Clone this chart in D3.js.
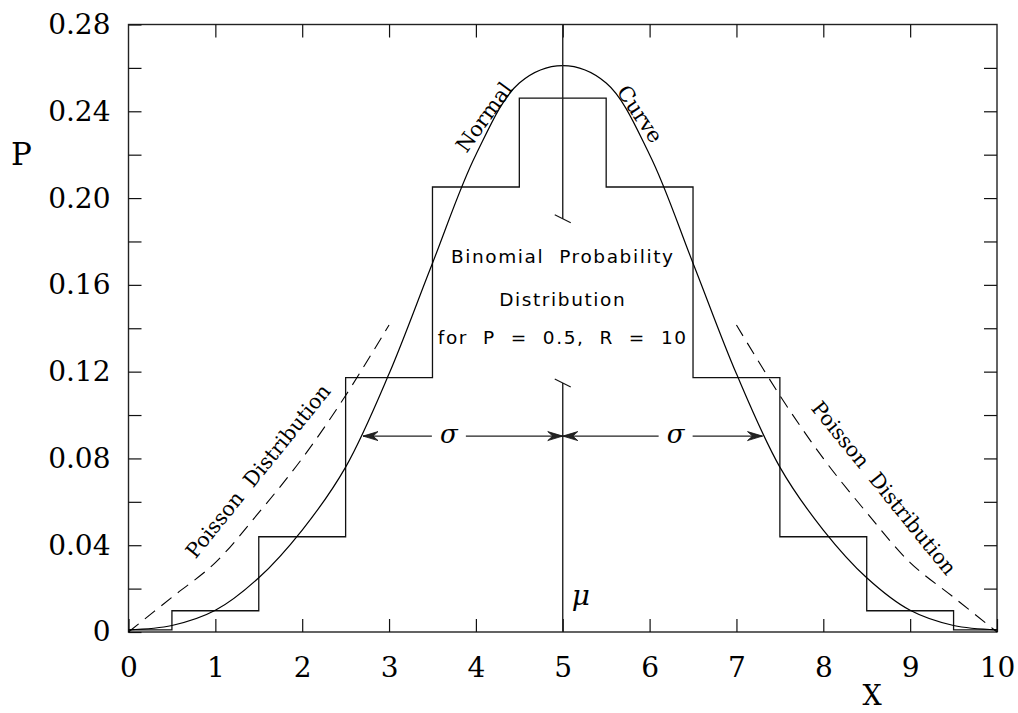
<!DOCTYPE html>
<html>
<head>
<meta charset="utf-8">
<script src="https://cdn.jsdelivr.net/npm/d3@7"></script>
<style>
  body { margin: 0; background: #fff; }
  svg { display: block; }
  .tick text { font-family: "DejaVu Serif", serif; font-size: 28px; fill: #000; }
  .tick line { stroke: #111; stroke-width: 1.2; }
</style>
</head>
<body>
<div id="vis"></div>
<script>
// Binomial distribution, p = 0.5, n = 10 (step histogram)
const binomX = [0, 1, 2, 3, 4, 5, 6, 7, 8, 9, 10];
const binomP = [0.001, 0.0098, 0.0439, 0.1172, 0.2051, 0.2461, 0.2051, 0.1172, 0.0439, 0.0098, 0.001];

// Normal curve
const normalX = [0, 0.5, 1, 1.5, 2, 2.5, 3, 3.5, 4, 4.5, 5, 5.5, 6, 6.5, 7, 7.5, 8, 8.5, 9, 9.5, 10];
const normalP = [0.001, 0.003, 0.010, 0.025, 0.047, 0.076, 0.119, 0.170, 0.220, 0.253, 0.261,
                 0.253, 0.220, 0.170, 0.119, 0.076, 0.047, 0.025, 0.010, 0.003, 0.001];

// Poisson dashed curves, left and right
const poissonLeftX = [0, 0.5, 1, 1.5, 2, 2.5, 3];
const poissonLeftP = [0, 0.016, 0.032, 0.055, 0.080, 0.109, 0.1415];
const poissonRightX = [7, 7.5, 8, 8.5, 9, 9.5, 10];
const poissonRightP = [0.1415, 0.109, 0.080, 0.055, 0.032, 0.016, 0];

// Axis ticks
const xTickValues = [0, 1, 2, 3, 4, 5, 6, 7, 8, 9, 10];
const yTickValues = [0, 0.02, 0.04, 0.06, 0.08, 0.10, 0.12, 0.14, 0.16, 0.18, 0.20, 0.22, 0.24, 0.26, 0.28];
const yTickLabels = ["0", "", "0.04", "", "0.08", "", "0.12", "", "0.16", "", "0.20", "", "0.24", "", "0.28"];

// mean line pieces (broken around the text) and sigma arrows
const muTop = [0.28, 0.1905];
const muBottom = [0.1148, 0];
const sigmaY = 0.0903;
const sigmaLeft = 2.70, sigmaRight = 7.30, mu = 5;

const FRAME_WIDTH = 1018;
const FRAME_HEIGHT = 713;
const MARGINS = {left: 128.5, right: 21, top: 24.5, bottom: 81};

const SVG = d3.select("#vis")
              .append("svg")
              .attr("width", FRAME_WIDTH)
              .attr("height", FRAME_HEIGHT);

const X = d3.scaleLinear().domain([0, 10]).range([MARGINS.left, FRAME_WIDTH - MARGINS.right]);
const Y = d3.scaleLinear().domain([0, 0.28]).range([FRAME_HEIGHT - MARGINS.bottom, MARGINS.top]);

// frame
SVG.append("rect")
   .attr("x", X(0)).attr("y", Y(0.28))
   .attr("width", X(10) - X(0)).attr("height", Y(0) - Y(0.28))
   .attr("fill", "none").attr("stroke", "#222").attr("stroke-width", 1.4);

// axes with inward ticks
const TICK = 13;
SVG.append("g")
   .attr("transform", "translate(0," + Y(0) + ")")
   .call(d3.axisBottom(X).tickValues(xTickValues).tickSize(-TICK).tickSizeOuter(0)
           .tickPadding(25).tickFormat(d3.format("d")))
   .call(g => g.select(".domain").remove());
SVG.append("g")
   .attr("transform", "translate(0," + Y(0.28) + ")")
   .call(d3.axisTop(X).tickValues(xTickValues.slice(1, -1)).tickSize(-TICK).tickFormat(""))
   .call(g => g.select(".domain").remove());
SVG.append("g")
   .attr("transform", "translate(" + X(0) + ",0)")
   .call(d3.axisLeft(Y).tickValues(yTickValues).tickSize(-TICK).tickSizeOuter(0)
           .tickPadding(18).tickFormat((d, i) => yTickLabels[i]))
   .call(g => g.select(".domain").remove());
SVG.append("g")
   .attr("transform", "translate(" + X(10) + ",0)")
   .call(d3.axisRight(Y).tickValues(yTickValues.slice(1, -1)).tickSize(-TICK).tickFormat(""))
   .call(g => g.select(".domain").remove());

// axis titles
SVG.append("text").attr("x", 11).attr("y", 165)
   .attr("font-family", "DejaVu Serif").attr("font-size", 31).text("P");
SVG.append("text").attr("x", 872).attr("y", 705).attr("text-anchor", "middle")
   .attr("font-family", "DejaVu Serif").attr("font-size", 27).text("X");

const line = d3.line().x(d => X(d[0])).y(d => Y(d[1]));

// binomial steps
SVG.append("path")
   .datum(d3.zip(binomX, binomP))
   .attr("d", line.curve(d3.curveStep))
   .attr("fill", "none").attr("stroke", "#111").attr("stroke-width", 1.3);

// normal curve
SVG.append("path")
   .attr("d", d3.line().x(d => X(d[0])).y(d => Y(d[1])).curve(d3.curveCatmullRom)(d3.zip(normalX, normalP)))
   .attr("fill", "none").attr("stroke", "#000").attr("stroke-width", 1.2);

// poisson dashed curves
[[poissonLeftX, poissonLeftP], [poissonRightX, poissonRightP]].forEach(([xs, ps]) => {
  SVG.append("path")
     .attr("d", d3.line().x(d => X(d[0])).y(d => Y(d[1])).curve(d3.curveCatmullRom)(d3.zip(xs, ps)))
     .attr("fill", "none").attr("stroke", "#000").attr("stroke-width", 1.1)
     .attr("stroke-dasharray", "13,8");
});

// mean line with break marks
[muTop, muBottom].forEach(seg => {
  SVG.append("line")
     .attr("x1", X(mu)).attr("x2", X(mu)).attr("y1", Y(seg[0])).attr("y2", Y(seg[1]))
     .attr("stroke", "#222").attr("stroke-width", 1.4);
});
[muTop[1], muBottom[0]].forEach(v => {
  SVG.append("line")
     .attr("x1", X(mu) - 8).attr("x2", X(mu) + 8).attr("y1", Y(v) - 4).attr("y2", Y(v) + 4)
     .attr("stroke", "#111").attr("stroke-width", 1.2);
});

// sigma arrows
function arrowHead(xTip, y, dir) {
  // dir = -1 points left, +1 points right
  const L = 15, W = 4.5, N = 10;
  const p = [[xTip, y], [xTip - dir * L, y - W], [xTip - dir * N, y], [xTip - dir * L, y + W]];
  SVG.append("path").attr("d", "M" + p.join("L") + "Z")
     .attr("fill", "#222").attr("stroke", "#111").attr("stroke-width", 0.8);
}
const ay = Y(sigmaY);
const sig1 = (X(sigmaLeft) + X(mu)) / 2 - 14;
const sig2 = (X(mu) + X(sigmaRight)) / 2 + 13;
[[X(sigmaLeft), sig1 - 17], [sig1 + 17, X(mu)], [X(mu), sig2 - 17], [sig2 + 17, X(sigmaRight)]].forEach(s => {
  SVG.append("line").attr("x1", s[0]).attr("x2", s[1]).attr("y1", ay).attr("y2", ay)
     .attr("stroke", "#222").attr("stroke-width", 1.2);
});
arrowHead(X(sigmaLeft), ay, -1);
arrowHead(X(mu), ay, 1);
arrowHead(X(mu), ay, -1);
arrowHead(X(sigmaRight), ay, 1);
[sig1, sig2].forEach(sx => {
  SVG.append("text").attr("x", sx).attr("y", ay + 7).attr("text-anchor", "middle")
     .attr("font-family", "DejaVu Serif").attr("font-style", "italic").attr("font-size", 26)
     .text("σ");
});

// mu label
SVG.append("text").attr("x", X(mu) + 9).attr("y", 605)
   .attr("font-family", "DejaVu Serif").attr("font-style", "italic").attr("font-size", 28)
   .text("μ");

// centre text
const centre = ["Binomial  Probability", "Distribution", "for  P  =  0.5,  R  =  10"];
const centreY = [263, 306, 344];
centre.forEach((t, i) => {
  SVG.append("text").attr("x", X(mu)).attr("y", centreY[i]).attr("text-anchor", "middle")
     .attr("font-family", "DejaVu Sans").attr("font-size", 18.5).attr("letter-spacing", 1.6)
     .style("white-space", "pre").text(t);
});

// rotated curve labels
function rotLabel(txt, cx, cy, ang, size) {
  SVG.append("text")
     .attr("transform", "translate(" + cx + "," + cy + ") rotate(" + ang + ")")
     .attr("text-anchor", "middle").attr("dy", "0.35em")
     .attr("font-family", "DejaVu Serif").attr("font-size", size)
     .style("white-space", "pre").text(txt);
}
rotLabel("Normal", 484, 117, -54, 21);
rotLabel("Curve", 640, 114, 56, 21);
rotLabel("Poisson  Distribution", 258, 471, -51, 20.5);
rotLabel("Poisson  Distribution", 884, 488, 51, 20.5);
</script>
</body>
</html>
